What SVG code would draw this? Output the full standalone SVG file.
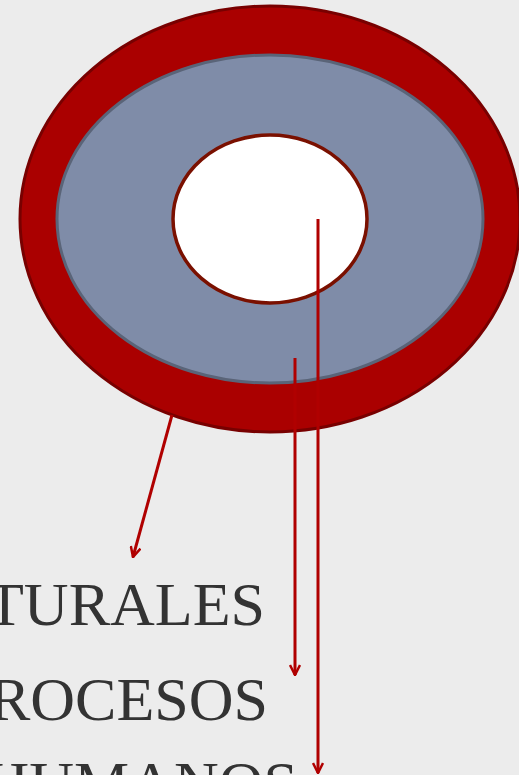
<svg xmlns="http://www.w3.org/2000/svg" width="519" height="775" viewBox="0 0 519 775">
<defs>
<marker id="ah" viewBox="0 0 12 12" refX="11" refY="6" markerWidth="12" markerHeight="12" markerUnits="userSpaceOnUse" orient="auto">
<path d="M1,1 L11,6 L1,11" fill="none" stroke="#b00000" stroke-width="2.5"/>
</marker>
</defs>
<style>
.lbl{font-family:"Liberation Serif","Times New Roman",serif;font-size:62px;fill:#333333;text-anchor:end}
.conn{stroke:#b00000;stroke-width:3;fill:none;marker-end:url(#ah)}
</style>
<rect width="519" height="775" fill="#ececec"/>
<g id="outer"><ellipse cx="270" cy="219" rx="250" ry="213" fill="#aa0000" stroke="#780000" stroke-width="3"/></g>
<g id="middle"><ellipse cx="270" cy="219" rx="213" ry="164" fill="#7f8ca8" stroke="#5a6478" stroke-width="3"/></g>
<g id="inner"><ellipse cx="270" cy="219" rx="97" ry="84" fill="#ffffff" stroke="#7a1000" stroke-width="3.5"/></g>
<g id="connectors">
<line class="conn" x1="172" y1="415" x2="133" y2="557"/>
<line class="conn" x1="295" y1="358" x2="295" y2="675"/>
<line class="conn" x1="318" y1="219" x2="318" y2="773"/>
</g>
<g id="labels">
<text class="lbl" x="265" y="625">TURALES</text>
<text class="lbl" x="268" y="720">ROCESOS</text>
<text class="lbl" x="298" y="804">HUMANOS</text>
</g>
</svg>
